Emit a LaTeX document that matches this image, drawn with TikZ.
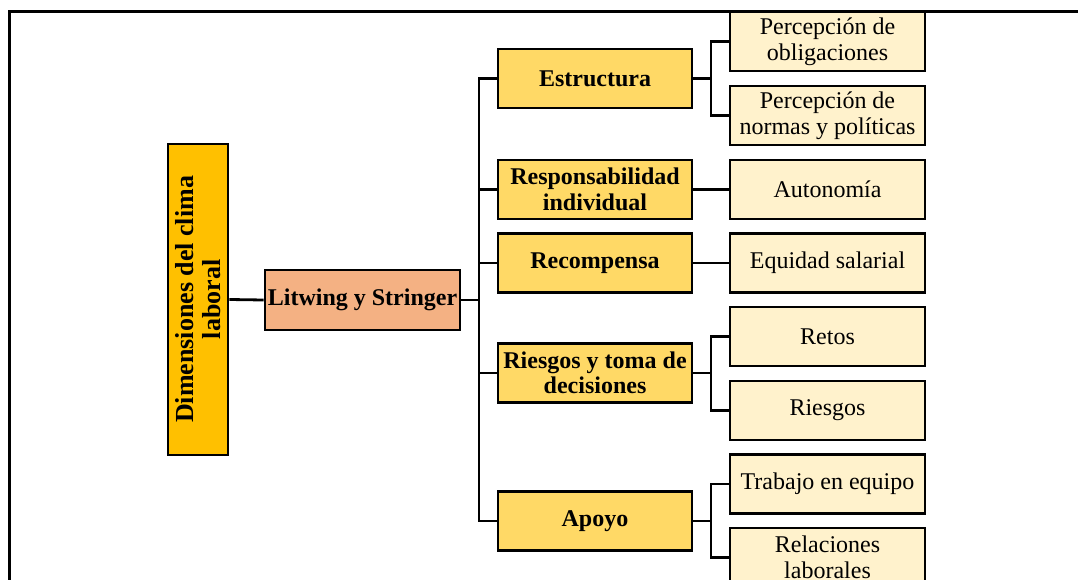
\documentclass[tikz,border=0pt]{standalone}
\usepackage{fontspec}
\setmainfont{Liberation Serif}
\definecolor{dimfill}{HTML}{FFC000}
\definecolor{litfill}{HTML}{F4B183}
\definecolor{midfill}{HTML}{FFD966}
\definecolor{leaffill}{HTML}{FFF2CC}
\tikzset{
  box/.style={draw=black, line width=2.8pt, inner sep=0pt, align=center, font=\fontsize{24}{25.5}\selectfont},
  dimbox/.style={box, fill=dimfill, rotate=90, minimum width=311pt, minimum height=60pt, font=\fontsize{26}{27}\selectfont\bfseries},
  litbox/.style={box, fill=litfill, minimum width=195pt, minimum height=60pt, font=\fontsize{24}{25.5}\selectfont\bfseries},
  midbox/.style={box, fill=midfill, minimum width=194pt, minimum height=59pt, font=\fontsize{24}{25.5}\selectfont\bfseries},
  leafbox/.style={box, fill=leaffill, minimum width=195pt, minimum height=59pt},
  conn/.style={draw=black, line width=2.8pt},
  frame/.style={draw=black, line width=2.2pt}
}
\begin{document}
\begin{tikzpicture}[x=1pt, y=-1pt]
\useasboundingbox (0,0) rectangle (1078,580);
\clip (0,0) rectangle (1078,580);
\fill[white] (0,0) rectangle (1078,580);
% frame
\coordinate (fbl) at (9.5,590);
\coordinate (ftl) at (9.5,11.5);
\coordinate (ftr) at (1090,11.5);
\draw[frame] (fbl) -- (ftl) -- (ftr);
% nodes
\node[dimbox] (dim) at (198,299.5) {Dimensiones del clima\\laboral};
\node[litbox] (lit) at (362.5,300) {Litwing y Stringer};
\node[midbox] (estr) at (595,78.5) {Estructura};
\node[midbox] (resp) at (595,189.5) {Responsabilidad\\individual};
\node[midbox] (reco) at (595,263) {Recompensa};
\node[midbox] (ries) at (595,373) {Riesgos y toma de\\decisiones};
\node[midbox] (apoy) at (595,521) {Apoyo};
\node[leafbox] (obl) at (827.5,41.5) {Percepción de\\obligaciones};
\node[leafbox] (norm) at (827.5,115.5) {Percepción de\\normas y políticas};
\node[leafbox] (auto) at (827.5,189.5) {Autonomía};
\node[leafbox] (equi) at (827.5,263) {Equidad salarial};
\node[leafbox] (reto) at (827.5,336.5) {Retos};
\node[leafbox] (rsg) at (827.5,410.5) {Riesgos};
\node[leafbox] (trab) at (827.5,484) {Trabajo en equipo};
\node[leafbox] (rela) at (827.5,557.5) {Relaciones\\laborales};
% connectors
\coordinate (trunk) at (479,300);
\coordinate (sE) at (711,78.5);
\coordinate (sR) at (711,373);
\coordinate (sA) at (711,521);
\draw[conn] (dim.south) -- (lit.west);
\draw[conn] (lit.east) -- (trunk);
\draw[conn] (trunk) |- (estr.west);
\draw[conn] (trunk) |- (resp.west);
\draw[conn] (trunk) |- (reco.west);
\draw[conn] (trunk) |- (ries.west);
\draw[conn] (trunk) |- (apoy.west);
\draw[conn] (estr.east) -- (sE);
\draw[conn] (sE) |- (obl.west);
\draw[conn] (sE) |- (norm.west);
\draw[conn] (resp.east) -- (auto.west);
\draw[conn] (reco.east) -- (equi.west);
\draw[conn] (ries.east) -- (sR);
\draw[conn] (sR) |- (reto.west);
\draw[conn] (sR) |- (rsg.west);
\draw[conn] (apoy.east) -- (sA);
\draw[conn] (sA) |- (trab.west);
\draw[conn] (sA) |- (rela.west);
\end{tikzpicture}
\end{document}
